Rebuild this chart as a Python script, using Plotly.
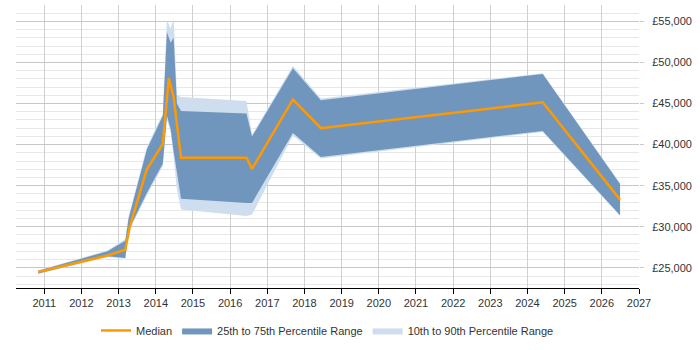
import plotly.graph_objects as go

# Median series
median_x = [2010.84, 2012.70, 2013.18, 2013.30, 2013.76, 2014.19, 2014.35, 2014.48,
            2014.68, 2016.44, 2016.59, 2017.69, 2018.44, 2024.41, 2026.49]
median_y = [24500, 26500, 27200, 30000, 37000, 40100, 48100, 45800,
            38400, 38400, 37050, 45500, 42000, 45150, 33300]

# Percentile bands
band_x = [2010.84, 2012.70, 2013.18, 2013.27, 2013.76, 2014.19, 2014.30, 2014.40, 2014.48,
          2014.57, 2014.68, 2016.44, 2016.59, 2017.69, 2018.44, 2024.41, 2026.49]
p75 = [24650, 27000, 28300, 31000, 39400, 43500, 53700, 52400, 53000,
       45000, 44100, 43800, 41000, 49300, 45400, 48600, 35200]
p25 = [24300, 26400, 26200, 29600, 34100, 37700, 43500, 41900, 39200,
       36600, 33400, 32900, 32900, 41400, 38500, 41650, 31400]
p90 = [24700, 27100, 28500, 31300, 39700, 43800, 55200, 54100, 55400,
       46000, 45800, 45300, 41200, 49600, 45600, 48700, 35300]
p10 = [24250, 26300, 26100, 29400, 33800, 37400, 43000, 41500, 38500,
       34500, 32100, 31300, 31500, 41100, 38300, 41550, 31350]

year_ticks = list(range(2011, 2028))
y_ticks = [25000, 30000, 35000, 40000, 45000, 50000, 55000]

DARK = "rgb(112,150,190)"
LIGHT = "rgb(206,222,238)"
ORANGE = "#FF9900"

fig = go.Figure()
fig.add_trace(go.Scatter(x=band_x, y=p10, mode="lines", line=dict(width=0, color=LIGHT),
                         showlegend=False, hoverinfo="skip"))
fig.add_trace(go.Scatter(x=band_x, y=p90, mode="lines", line=dict(width=0, color=LIGHT),
                         fill="tonexty", fillcolor=LIGHT,
                         name="10th to 90th Percentile Range", legendrank=3))
fig.add_trace(go.Scatter(x=band_x, y=p25, mode="lines", line=dict(width=0, color=DARK),
                         showlegend=False, hoverinfo="skip"))
fig.add_trace(go.Scatter(x=band_x, y=p75, mode="lines", line=dict(width=0, color=DARK),
                         fill="tonexty", fillcolor=DARK,
                         name="25th to 75th Percentile Range", legendrank=2))
fig.add_trace(go.Scatter(x=median_x, y=median_y, mode="lines",
                         line=dict(width=2.5, color=ORANGE), name="Median", legendrank=1))

fig.update_layout(
    width=700, height=350,
    margin=dict(l=16, r=61, t=5, b=57),
    paper_bgcolor="white", plot_bgcolor="white",
    font=dict(family="Liberation Sans, Arial, sans-serif", size=11, color="#333333"),
    showlegend=True,
    legend=dict(orientation="h", x=0.5, xanchor="center", y=-0.15, yanchor="middle",
                font=dict(size=11, color="#333333"), itemwidth=30, traceorder="normal"),
    xaxis=dict(
        range=[2010.24, 2027.0],
        tickvals=year_ticks, ticktext=[str(y) for y in year_ticks],
        showgrid=True, gridcolor="#d0d0d0", gridwidth=1,
        showline=True, linecolor="#000000", linewidth=1,
        ticks="outside", ticklen=5, tickcolor="#000000",
        zeroline=False,
    ),
    yaxis=dict(
        side="right",
        range=[22540, 57000],
        tickvals=y_ticks, ticktext=[f"£{v:,}" for v in y_ticks],
        showgrid=True, gridcolor="#c8c8c8", gridwidth=1,
        ticks="outside", ticklen=4, tickcolor="#c8c8c8",
        ticklabelstandoff=6,
        minor=dict(dtick=1000, tick0=0, showgrid=True, gridcolor="#e8e8e8", gridwidth=1),
        showline=False, zeroline=False,
    ),
)

fig.write_html("out.html")
